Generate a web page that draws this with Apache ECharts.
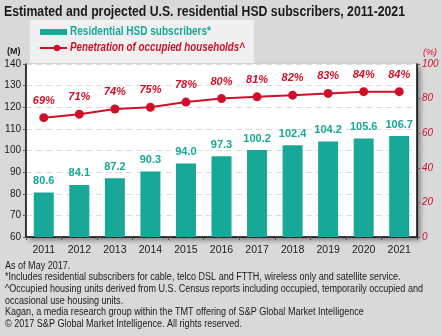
<!DOCTYPE html>
<html>
<head>
<meta charset="utf-8">
<script src="https://cdn.jsdelivr.net/npm/echarts@6/dist/echarts.min.js"></script>
<style>
  html, body { margin: 0; padding: 0; background: #d9d9d9; }
  #chart { width: 442px; height: 336px; }
</style>
</head>
<body>
<div id="chart"></div>
<script>
// Years on the category axis
const years = ['2011', '2012', '2013', '2014', '2015', '2016', '2017', '2018', '2019', '2020', '2021'];
// Residential HSD subscribers, millions
const subscribers = [80.6, 84.1, 87.2, 90.3, 94.0, 97.3, 100.2, 102.4, 104.2, 105.6, 106.7];
// Penetration of occupied households, percent
const penetration = [69, 71, 74, 75, 78, 80, 81, 82, 83, 84, 84];

const titleText = 'Estimated and projected U.S. residential HSD subscribers, 2011-2021';
const barName = 'Residential HSD subscribers*';
const lineName = 'Penetration of occupied households^';
const footnotes = [
  'As of May 2017.',
  '*Includes residential subscribers for cable, telco DSL and FTTH, wireless only and satellite service.',
  '^Occupied housing units derived from U.S. Census reports including occupied, temporarily occupied and',
  'occasional use housing units.',
  'Kagan, a media research group within the TMT offering of S&P Global Market Intelligence',
  '\u00a9 2017 S&P Global Market Intelligence. All rights reserved.'
];

const TEAL = '#17a897';
const RED = '#d0102a';
const INK = '#1a1a1a';
const FONT = '"Liberation Sans", Arial, sans-serif';

// Condensed look: measure a string and squeeze it horizontally to a set width
const measureCtx = document.createElement('canvas').getContext('2d');
function squeeze(text, font, width) {
  measureCtx.font = font;
  return Math.min(1, width / measureCtx.measureText(text).width);
}
function condensedText(text, font, fill, x, y, sx) {
  return {
    type: 'text', x: x, y: y, scaleX: sx, z: 10,
    style: { text: text, font: font, fill: fill, x: 0, y: 0, verticalAlign: 'middle', align: 'left' }
  };
}

const chart = echarts.init(document.getElementById('chart'), null, { renderer: 'canvas' });

const titleFont = 'bold 14px ' + FONT;
const noteFont = '10px ' + FONT;
const noteScale = squeeze(footnotes[2], noteFont, 418);
const barLegFont = 'bold 12px ' + FONT;
const lineLegFont = 'italic bold 12px ' + FONT;

const graphics = [
  condensedText(titleText, titleFont, INK, 4, 12, squeeze(titleText, titleFont, 401)),
  // legend panel
  { type: 'rect', shape: { x: 30, y: 20, width: 224, height: 43 }, style: { fill: '#f0f0f0' }, z: 1 },
  { type: 'rect', shape: { x: 40, y: 29, width: 27, height: 6 }, style: { fill: TEAL }, z: 10 },
  condensedText(barName, barLegFont, TEAL, 70, 32, squeeze(barName, barLegFont, 141)),
  { type: 'line', shape: { x1: 40, y1: 48, x2: 67, y2: 48 }, style: { stroke: RED, lineWidth: 2 }, z: 10 },
  { type: 'circle', shape: { cx: 57, cy: 48, r: 3.2 }, style: { fill: RED }, z: 10 },
  condensedText(lineName, lineLegFont, RED, 70, 48, squeeze(lineName, lineLegFont, 175)),
  // axis unit captions
  condensedText('(M)', 'bold 9px ' + FONT, INK, 7, 52, 1),
  condensedText('(%)', 'italic 9px ' + FONT, RED, 423, 52, 1)
];
footnotes.forEach(function (t, i) {
  graphics.push(condensedText(t, noteFont, INK, 5, 266 + i * 11.6, noteScale));
});

chart.setOption({
  backgroundColor: '#d9d9d9',
  animation: false,
  textStyle: { fontFamily: FONT },
  legend: { show: false, data: [barName, lineName] },
  grid: {
    left: 26, right: 25, top: 64, bottom: 99,
    show: true, backgroundColor: '#ffffff', borderWidth: 0,
    shadowColor: 'rgba(0,0,0,0.45)', shadowBlur: 5, shadowOffsetX: 3, shadowOffsetY: 3
  },
  xAxis: {
    type: 'category', data: years,
    axisLine: { lineStyle: { color: '#000', width: 1.5 } },
    axisTick: { show: true, alignWithLabel: false, lineStyle: { color: '#555' }, length: 3 },
    axisLabel: { color: INK, fontSize: 10.5, margin: 8 }
  },
  yAxis: [
    {
      type: 'value', min: 60, max: 140, interval: 10,
      axisLine: { show: true, lineStyle: { color: '#000', width: 1.5 } },
      axisTick: { show: true, length: 3, lineStyle: { color: '#555' } },
      axisLabel: { color: INK, fontSize: 10, margin: 5 },
      splitLine: { lineStyle: { color: '#dddddd', type: [6, 4] } }
    },
    {
      type: 'value', min: 0, max: 100, interval: 20, position: 'right',
      axisLine: { show: true, lineStyle: { color: '#000', width: 1.5 } },
      axisTick: { show: true, length: 3, lineStyle: { color: '#555' } },
      axisLabel: { color: RED, fontSize: 10, fontStyle: 'italic', margin: 5 },
      splitLine: { show: false }
    }
  ],
  series: [
    {
      name: barName, type: 'bar', data: subscribers,
      barWidth: 20, itemStyle: { color: TEAL },
      label: { show: true, position: 'top', color: TEAL, fontWeight: 'bold', fontSize: 11, distance: 6,
        formatter: function (p) { return p.value.toFixed(1); } }
    },
    {
      name: lineName, type: 'line', yAxisIndex: 1, data: penetration,
      symbol: 'circle', symbolSize: 9,
      lineStyle: { color: RED, width: 2 }, itemStyle: { color: RED },
      label: { show: true, position: 'top', distance: 7, color: RED, fontWeight: 'bold',
        fontStyle: 'italic', fontSize: 11, formatter: '{c}%' }
    }
  ],
  graphic: graphics
});
</script>
</body>
</html>
